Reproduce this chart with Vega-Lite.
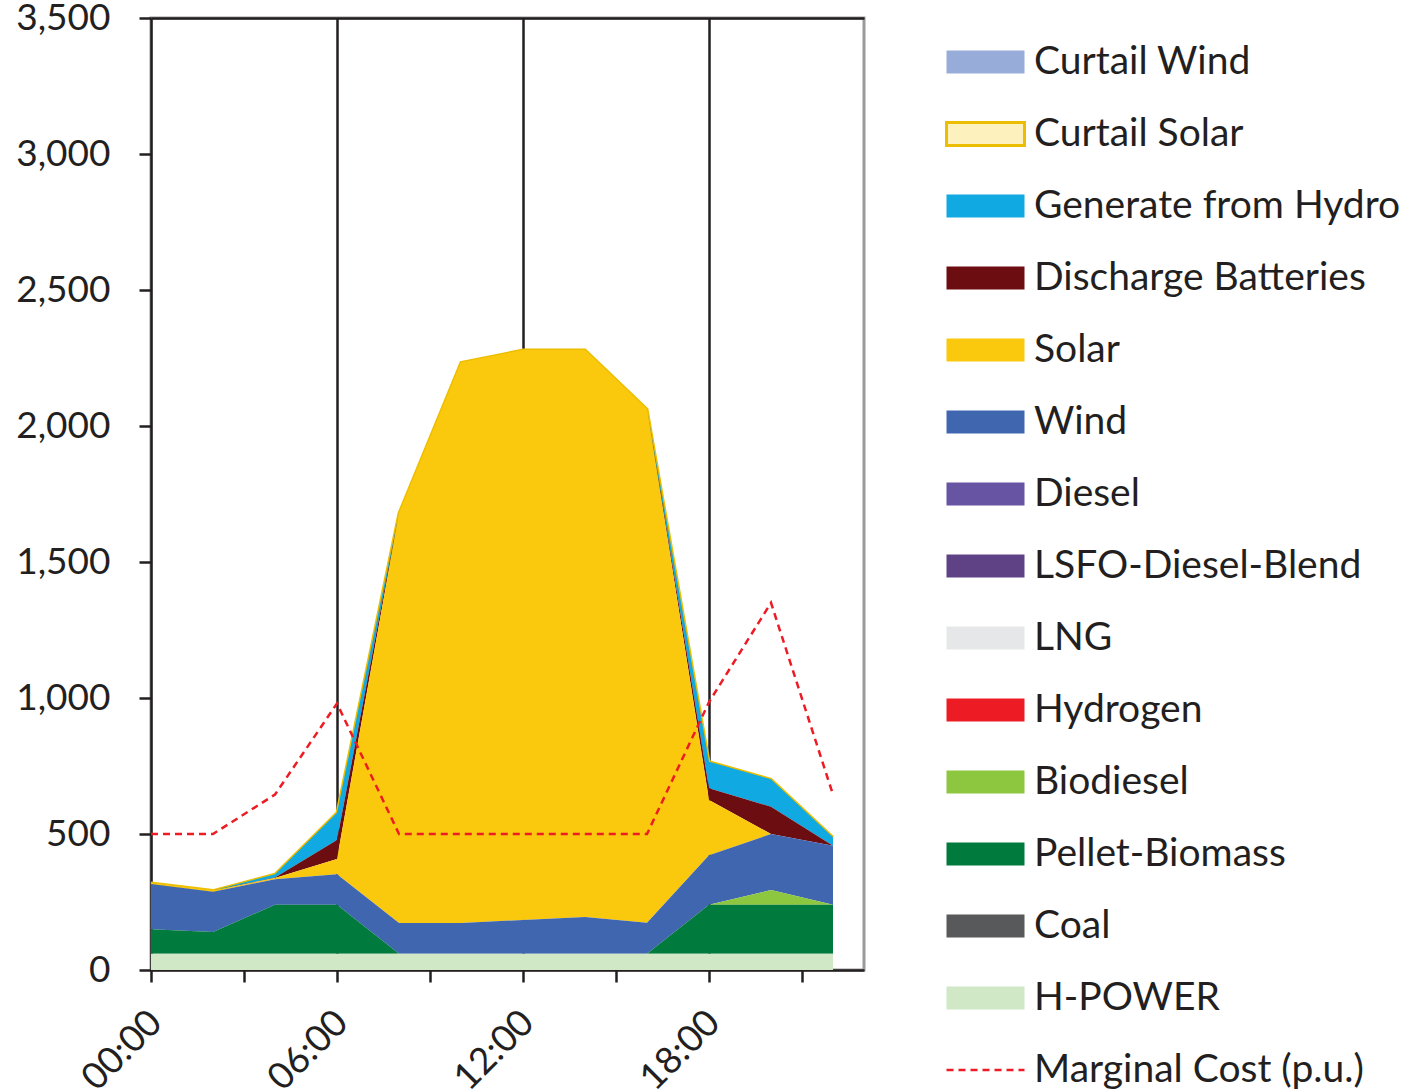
{
  "$schema": "https://vega.github.io/schema/vega-lite/v6.json",
  "width": 713,
  "height": 952,
  "autosize": {"type": "none"},
  "padding": {"left": 151, "top": 18, "right": 547, "bottom": 122},
  "background": "white",
  "config": {
    "font": "Lato",
    "view": {"stroke": "#9A9A9A", "strokeWidth": 3},
    "axis": {"domainColor": "#231F20", "tickColor": "#231F20", "labelColor": "#231F20", "domainWidth": 2.5, "tickWidth": 2.5, "labelFont": "Lato", "labelFontSize": 37},
    "legend": {"labelFont": "Lato", "labelFontSize": 39, "labelColor": "#231F20", "padding": 0, "labelLimit": 600}
  },
  "data": {
    "values": [
      {"hour": 0, "H-POWER": 60, "Coal": 0, "Pellet-Biomass": 90, "Biodiesel": 0, "Hydrogen": 0, "LNG": 0, "LSFO-Diesel-Blend": 0, "Diesel": 0, "Wind": 166, "Solar": 4, "Discharge Batteries": 0, "Generate from Hydro": 0, "Curtail Solar": 0, "Curtail Wind": 0, "mc": 500},
      {"hour": 2, "H-POWER": 60, "Coal": 0, "Pellet-Biomass": 80, "Biodiesel": 0, "Hydrogen": 0, "LNG": 0, "LSFO-Diesel-Blend": 0, "Diesel": 0, "Wind": 148, "Solar": 4, "Discharge Batteries": 0, "Generate from Hydro": 0, "Curtail Solar": 0, "Curtail Wind": 0, "mc": 500},
      {"hour": 4, "H-POWER": 60, "Coal": 0, "Pellet-Biomass": 180, "Biodiesel": 0, "Hydrogen": 0, "LNG": 0, "LSFO-Diesel-Blend": 0, "Diesel": 0, "Wind": 94, "Solar": 4, "Discharge Batteries": 2, "Generate from Hydro": 12, "Curtail Solar": 0, "Curtail Wind": 0, "mc": 645},
      {"hour": 6, "H-POWER": 60, "Coal": 0, "Pellet-Biomass": 180, "Biodiesel": 0, "Hydrogen": 0, "LNG": 0, "LSFO-Diesel-Blend": 0, "Diesel": 0, "Wind": 112, "Solar": 56, "Discharge Batteries": 70, "Generate from Hydro": 100, "Curtail Solar": 0, "Curtail Wind": 0, "mc": 980},
      {"hour": 8, "H-POWER": 60, "Coal": 0, "Pellet-Biomass": 0, "Biodiesel": 0, "Hydrogen": 0, "LNG": 0, "LSFO-Diesel-Blend": 0, "Diesel": 0, "Wind": 113, "Solar": 1506, "Discharge Batteries": 0, "Generate from Hydro": 0, "Curtail Solar": 0, "Curtail Wind": 0, "mc": 500},
      {"hour": 10, "H-POWER": 60, "Coal": 0, "Pellet-Biomass": 0, "Biodiesel": 0, "Hydrogen": 0, "LNG": 0, "LSFO-Diesel-Blend": 0, "Diesel": 0, "Wind": 113, "Solar": 2060, "Discharge Batteries": 0, "Generate from Hydro": 0, "Curtail Solar": 0, "Curtail Wind": 0, "mc": 500},
      {"hour": 12, "H-POWER": 60, "Coal": 0, "Pellet-Biomass": 0, "Biodiesel": 0, "Hydrogen": 0, "LNG": 0, "LSFO-Diesel-Blend": 0, "Diesel": 0, "Wind": 124, "Solar": 2095, "Discharge Batteries": 0, "Generate from Hydro": 0, "Curtail Solar": 0, "Curtail Wind": 0, "mc": 500},
      {"hour": 14, "H-POWER": 60, "Coal": 0, "Pellet-Biomass": 0, "Biodiesel": 0, "Hydrogen": 0, "LNG": 0, "LSFO-Diesel-Blend": 0, "Diesel": 0, "Wind": 135, "Solar": 2084, "Discharge Batteries": 0, "Generate from Hydro": 0, "Curtail Solar": 0, "Curtail Wind": 0, "mc": 500},
      {"hour": 16, "H-POWER": 60, "Coal": 0, "Pellet-Biomass": 0, "Biodiesel": 0, "Hydrogen": 0, "LNG": 0, "LSFO-Diesel-Blend": 0, "Diesel": 0, "Wind": 114, "Solar": 1888, "Discharge Batteries": 0, "Generate from Hydro": 0, "Curtail Solar": 0, "Curtail Wind": 0, "mc": 500},
      {"hour": 18, "H-POWER": 60, "Coal": 0, "Pellet-Biomass": 180, "Biodiesel": 0, "Hydrogen": 0, "LNG": 0, "LSFO-Diesel-Blend": 0, "Diesel": 0, "Wind": 182, "Solar": 203, "Discharge Batteries": 43, "Generate from Hydro": 98, "Curtail Solar": 0, "Curtail Wind": 0, "mc": 985},
      {"hour": 20, "H-POWER": 60, "Coal": 0, "Pellet-Biomass": 180, "Biodiesel": 54, "Hydrogen": 0, "LNG": 0, "LSFO-Diesel-Blend": 0, "Diesel": 0, "Wind": 206, "Solar": 0, "Discharge Batteries": 100, "Generate from Hydro": 101, "Curtail Solar": 0, "Curtail Wind": 0, "mc": 1350},
      {"hour": 22, "H-POWER": 60, "Coal": 0, "Pellet-Biomass": 180, "Biodiesel": 0, "Hydrogen": 0, "LNG": 0, "LSFO-Diesel-Blend": 0, "Diesel": 0, "Wind": 217, "Solar": 0, "Discharge Batteries": 0, "Generate from Hydro": 31, "Curtail Solar": 0, "Curtail Wind": 0, "mc": 645}
    ]
  },
  "layer": [
    {
      "transform": [
        {"fold": ["Curtail Wind", "Curtail Solar", "Generate from Hydro", "Discharge Batteries", "Solar", "Wind", "Diesel", "LSFO-Diesel-Blend", "LNG", "Hydrogen", "Biodiesel", "Pellet-Biomass", "Coal", "H-POWER"], "as": ["source", "value"]},
        {"calculate": "indexof(['Curtail Wind', 'Curtail Solar', 'Generate from Hydro', 'Discharge Batteries', 'Solar', 'Wind', 'Diesel', 'LSFO-Diesel-Blend', 'LNG', 'Hydrogen', 'Biodiesel', 'Pellet-Biomass', 'Coal', 'H-POWER'], datum.source)", "as": "stackrank"}
      ],
      "mark": {"type": "area", "opacity": 1, "strokeWidth": 3, "interpolate": "linear"},
      "encoding": {
        "x": {
          "field": "hour", "type": "quantitative",
          "scale": {"domain": [0, 23], "nice": false, "zero": false},
          "axis": {
            "title": null,
            "values": [0, 3, 6, 9, 12, 15, 18, 21],
            "labelExpr": "datum.value % 6 === 0 ? (datum.value < 10 ? '0' : '') + datum.value + ':00' : ''",
            "labelAngle": -45,
            "labelPadding": 22,
            "labelOffset": -8,
            "tickSize": 12,
            "grid": true,
            "gridColor": {"condition": {"test": "datum.value === 6 || datum.value === 12 || datum.value === 18", "value": "#231F20"}, "value": "transparent"},
            "gridWidth": 2.5
          }
        },
        "y": {
          "field": "value", "type": "quantitative", "stack": "zero",
          "scale": {"domain": [0, 3500], "nice": false},
          "axis": {
            "title": null,
            "values": [0, 500, 1000, 1500, 2000, 2500, 3000, 3500],
            "format": ",.0f",
            "tickSize": 12,
            "labelPadding": 29,
            "grid": true,
            "gridColor": {"condition": {"test": "datum.value === 3500", "value": "#231F20"}, "value": "transparent"},
            "gridWidth": 2.5
          }
        },
        "order": {"field": "stackrank", "type": "quantitative", "sort": "descending"},
        "fill": {
          "field": "source", "type": "nominal",
          "sort": ["Curtail Wind", "Curtail Solar", "Generate from Hydro", "Discharge Batteries", "Solar", "Wind", "Diesel", "LSFO-Diesel-Blend", "LNG", "Hydrogen", "Biodiesel", "Pellet-Biomass", "Coal", "H-POWER"],
          "scale": {
            "domain": ["Curtail Wind", "Curtail Solar", "Generate from Hydro", "Discharge Batteries", "Solar", "Wind", "Diesel", "LSFO-Diesel-Blend", "LNG", "Hydrogen", "Biodiesel", "Pellet-Biomass", "Coal", "H-POWER"],
            "range": ["#98ACD9", "#FDF1BE", "#10A9E1", "#6C0D11", "#FAC90E", "#4066B0", "#6754A3", "#5E4285", "#E6E7E8", "#ED1C24", "#8DC63F", "#007A3D", "#58595B", "#D0E8C6"]
          },
          "legend": {
            "title": null,
            "orient": "none",
            "legendX": 794,
            "legendY": 8,
            "symbolType": "M-1,-0.295H1V0.295H-1Z",
            "symbolSize": 6084,
            "symbolStrokeWidth": 3,
            "labelOffset": 8,
            "clipHeight": 72,
            "rowPadding": 0
          }
        },
        "stroke": {
          "field": "source", "type": "nominal",
          "sort": ["Curtail Wind", "Curtail Solar", "Generate from Hydro", "Discharge Batteries", "Solar", "Wind", "Diesel", "LSFO-Diesel-Blend", "LNG", "Hydrogen", "Biodiesel", "Pellet-Biomass", "Coal", "H-POWER"],
          "scale": {
            "domain": ["Curtail Wind", "Curtail Solar", "Generate from Hydro", "Discharge Batteries", "Solar", "Wind", "Diesel", "LSFO-Diesel-Blend", "LNG", "Hydrogen", "Biodiesel", "Pellet-Biomass", "Coal", "H-POWER"],
            "range": ["transparent", "#EDBE00", "transparent", "transparent", "transparent", "transparent", "transparent", "transparent", "transparent", "transparent", "transparent", "transparent", "transparent", "transparent"]
          },
          "legend": {
            "title": null,
            "orient": "none",
            "legendX": 794,
            "legendY": 8,
            "symbolType": "M-1,-0.295H1V0.295H-1Z",
            "symbolSize": 6084,
            "symbolStrokeWidth": 3,
            "labelOffset": 8,
            "clipHeight": 72,
            "rowPadding": 0
          }
        }
      }
    },
    {
      "mark": {"type": "line", "strokeDash": [7, 5], "strokeWidth": 2.5},
      "encoding": {
        "x": {"field": "hour", "type": "quantitative"},
        "y": {"field": "mc", "type": "quantitative"},
        "color": {
          "datum": "Marginal Cost (p.u.)",
          "type": "nominal",
          "scale": {"domain": ["Marginal Cost (p.u.)"], "range": ["#ED1C24"]},
          "legend": {
            "title": null,
            "orient": "none",
            "legendX": 794,
            "legendY": 1016,
            "symbolType": "stroke",
            "symbolSize": 6084,
            "symbolStrokeWidth": 2.5,
            "symbolDash": [7, 5],
            "labelOffset": 8,
            "clipHeight": 72
          }
        }
      }
    }
  ]
}
